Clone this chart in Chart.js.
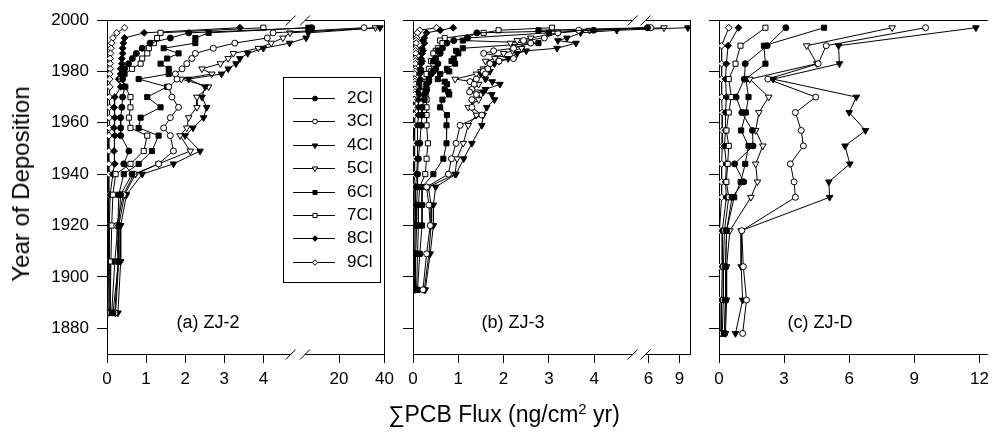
<!DOCTYPE html>
<html>
<head>
<meta charset="utf-8">
<script src="https://cdn.jsdelivr.net/npm/chart.js@4"></script>
<style>
  body { margin: 0; background: #fff; }
  #wrap { position: relative; width: 995px; height: 435px; overflow: hidden; font-family: "Liberation Sans", Arial, sans-serif; color: #000; }
  canvas { position: absolute; top: 0; }
  .lbl { position: absolute; white-space: nowrap; line-height: 1; }
  .lbl sup { font-size: 0.65em; vertical-align: 0.55em; }
</style>
</head>
<body>
<div id="wrap">
  <canvas id="chartA" width="400" height="435" style="left:0px"></canvas>
  <canvas id="chartB" width="300" height="435" style="left:400px"></canvas>
  <canvas id="chartC" width="295" height="435" style="left:700px"></canvas>
  <div class="lbl" id="ytitle" style="left:21px; top:184px; font-size:24px; transform: translate(-50%, -50%) rotate(-90deg);">Year of Deposition</div>
  <div class="lbl" style="left:504px; top:414px; font-size:23px; transform: translate(-50%, -50%);">&sum;PCB Flux (ng/cm<sup>2</sup> yr)</div>
  <div class="lbl" style="left:208px; top:322px; font-size:18px; transform: translate(-50%, -50%);">(a) ZJ-2</div>
  <div class="lbl" style="left:513px; top:322px; font-size:18px; transform: translate(-50%, -50%);">(b) ZJ-3</div>
  <div class="lbl" style="left:820px; top:322px; font-size:18px; transform: translate(-50%, -50%);">(c) ZJ-D</div>
</div>
<script>
const seriesNames = ['2Cl', '3Cl', '4Cl', '5Cl', '6Cl', '7Cl', '8Cl', '9Cl'];
const yTicks = [1880, 1900, 1920, 1940, 1960, 1980, 2000];

// (a) ZJ-2
const yearsZJ2 = [1997, 1995, 1993, 1991, 1989, 1987, 1985, 1983, 1981, 1979, 1977, 1974, 1970, 1966, 1962, 1958, 1955, 1949, 1944, 1940, 1932, 1920, 1906, 1886];
const zj2_2Cl = [8, 2.09, 1.62, 1.1, 0.9, 0.75, 0.65, 0.55, 0.45, 0.43, 0.4, 0.45, 0.4, 0.38, 0.35, 0.35, 0.35, 0.56, 0.43, 0.64, 0.35, 0.3, 0.3, 0.15];
const zj2_3Cl = [31, 4.25, 4.1, 3.27, 2.72, 2.26, 2.17, 2.04, 1.92, 1.75, 1.79, 1.58, 1.66, 1.83, 1.62, 1.45, 1.62, 1.7, 1.32, 0.69, 0.42, 0.25, 0.28, 0.2];
const zj2_4Cl = [38, 6.5, 5.5, 4.67, 4.0, 3.6, 3.4, 3.3, 3.1, 2.93, 2.09, 2.51, 2.43, 2.55, 2.47, 2.2, 2.0, 2.38, 1.7, 0.9, 0.5, 0.35, 0.35, 0.28];
const zj2_5Cl = [36, 4.68, 4.5, 4.2, 3.87, 3.23, 3.1, 2.9, 2.43, 2.68, 1.9, 2.6, 2.3, 2.3, 2.09, 2.04, 1.87, 2.13, 1.32, 0.73, 0.45, 0.3, 0.3, 0.22];
const zj2_6Cl = [6.5, 2.6, 2.26, 2.26, 1.45, 1.83, 1.54, 1.37, 1.58, 1.58, 0.81, 1.54, 1.03, 1.37, 0.86, 0.81, 1.32, 1.15, 0.81, 0.43, 0.3, 0.28, 0.2, 0.12];
const zj2_7Cl = [4.0, 1.37, 1.28, 1.2, 1.07, 1.03, 0.9, 0.86, 0.64, 0.45, 0.35, 0.47, 0.6, 0.6, 0.56, 0.6, 1.03, 0.94, 0.6, 0.22, 0.15, 0.12, 0.1, 0.08];
const zj2_8Cl = [3.4, 0.95, 0.45, 0.42, 0.4, 0.4, 0.38, 0.38, 0.35, 0.35, 0.3, 0.35, 0.2, 0.18, 0.2, 0.18, 0.2, 0.18, 0.2, 0.15, 0.08, 0.06, 0.06, 0.05];
const zj2_9Cl = [0.45, 0.25, 0.15, 0.12, 0.1, 0.09, 0.08, 0.08, 0.08, 0.07, 0.07, 0.07, 0.06, 0.06, 0.06, 0.06, 0.05, 0.05, 0.05, 0.05, 0.04, 0.03, 0.04, 0.02];
const zj2Ticks = [0, 1, 2, 3, 4, 20, 40];

// (b) ZJ-3
const yearsZJ3 = [1997, 1996, 1995, 1993, 1992, 1991, 1989, 1988, 1987, 1985, 1984, 1983, 1981, 1980, 1979, 1977, 1976, 1975, 1973, 1972, 1971, 1969, 1966, 1963, 1959, 1952, 1946, 1940, 1935, 1928, 1920, 1909, 1895];
const zj3_2Cl = [5.9, 3.99, 1.41, 1.2, 0.9, 0.75, 0.65, 0.55, 0.6, 0.5, 0.45, 0.55, 0.5, 0.45, 0.4, 0.35, 0.35, 0.3, 0.3, 0.28, 0.25, 0.25, 0.2, 0.2, 0.18, 0.15, 0.12, 0.1, 0.1, 0.08, 0.08, 0.06, 0.05];
const zj3_3Cl = [6.2, 3.66, 3.2, 2.9, 2.44, 2.6, 2.22, 1.78, 1.56, 2.22, 1.9, 1.7, 1.65, 1.55, 1.6, 1.4, 1.26, 1.35, 1.3, 1.25, 1.4, 1.3, 1.3, 1.52, 1.04, 0.95, 0.85, 0.78, 0.3, 0.35, 0.38, 0.3, 0.22];
const zj3_4Cl = [9.8, 4.5, 3.7, 3.4, 3.2, 3.6, 3.18, 2.5, 2.3, 2.1, 1.9, 1.8, 1.65, 1.7, 1.5, 1.6, 1.75, 1.92, 1.6, 1.55, 1.74, 1.8, 1.63, 1.55, 1.52, 1.3, 1.12, 0.95, 0.5, 0.45, 0.45, 0.38, 0.27];
const zj3_5Cl = [7.5, 3.9, 3.2, 2.6, 2.3, 2.15, 2.4, 2.2, 2.0, 1.81, 1.6, 1.7, 1.55, 1.5, 1.4, 0.93, 1.3, 1.45, 1.3, 1.4, 1.5, 1.45, 1.22, 1.4, 1.22, 1.11, 0.97, 0.93, 0.34, 0.4, 0.4, 0.35, 0.25];
const zj3_6Cl = [6.0, 2.77, 3.0, 1.2, 1.1, 2.77, 1.1, 0.95, 1.0, 0.9, 0.85, 0.93, 0.75, 0.8, 0.6, 0.55, 0.7, 0.75, 0.7, 0.78, 0.8, 0.65, 0.6, 0.75, 0.74, 0.74, 0.67, 0.45, 0.2, 0.2, 0.2, 0.15, 0.1];
const zj3_7Cl = [3.07, 1.89, 1.56, 0.7, 0.6, 0.65, 0.55, 0.5, 0.45, 0.5, 0.4, 0.45, 0.35, 0.4, 0.3, 0.35, 0.3, 0.25, 0.3, 0.22, 0.28, 0.3, 0.3, 0.3, 0.3, 0.33, 0.3, 0.27, 0.15, 0.12, 0.12, 0.1, 0.08];
const zj3_8Cl = [0.89, 0.6, 0.3, 0.25, 0.22, 0.25, 0.2, 0.22, 0.2, 0.18, 0.2, 0.18, 0.17, 0.18, 0.15, 0.16, 0.15, 0.14, 0.15, 0.13, 0.14, 0.12, 0.12, 0.12, 0.1, 0.1, 0.1, 0.08, 0.06, 0.05, 0.05, 0.04, 0.03];
const zj3_9Cl = [0.52, 0.15, 0.1, 0.08, 0.07, 0.07, 0.06, 0.06, 0.06, 0.05, 0.05, 0.05, 0.05, 0.05, 0.04, 0.04, 0.04, 0.04, 0.04, 0.04, 0.04, 0.03, 0.03, 0.03, 0.03, 0.03, 0.03, 0.03, 0.02, 0.02, 0.02, 0.01, 0.01];
const zj3Ticks = [0, 1, 2, 3, 4, 6, 9];

// (c) ZJ-D
const yearsZJD = [1997, 1990, 1983, 1977, 1970, 1964, 1957, 1951, 1944, 1937, 1931, 1918, 1904, 1891, 1878];
const zjd_2Cl = [3.08, 2.22, 1.21, 1.17, 0.79, 1.05, 1.54, 1.57, 0.72, 1.14, 0.6, 0.35, 0.3, 0.3, 0.25];
const zjd_3Cl = [9.52, 4.94, 4.57, 2.25, 4.46, 3.52, 3.79, 3.89, 3.29, 3.46, 3.52, 1.05, 1.12, 1.27, 1.09];
const zjd_4Cl = [11.84, 5.51, 5.55, 2.49, 6.33, 6.0, 6.75, 5.81, 6.03, 5.06, 5.1, 1.02, 1.02, 1.09, 0.76];
const zjd_5Cl = [7.98, 4.04, 4.51, 1.42, 2.29, 1.84, 1.69, 2.02, 1.69, 1.77, 1.47, 0.5, 0.35, 0.35, 0.3];
const zjd_6Cl = [4.84, 2.07, 2.14, 1.24, 1.36, 1.24, 1.02, 1.36, 1.21, 1.0, 0.7, 0.35, 0.3, 0.3, 0.25];
const zjd_7Cl = [2.14, 0.99, 0.76, 0.45, 0.57, 0.45, 0.34, 0.45, 0.4, 0.34, 0.45, 0.25, 0.2, 0.2, 0.15];
const zjd_8Cl = [0.9, 0.42, 0.34, 0.3, 0.34, 0.3, 0.3, 0.25, 0.34, 0.3, 0.34, 0.15, 0.15, 0.12, 0.1];
const zjd_9Cl = [0.45, 0.12, 0.12, 0.12, 0.12, 0.15, 0.15, 0.15, 0.12, 0.12, 0.12, 0.02, 0.02, 0.02, 0.02];
const zjdTicks = [0, 3, 6, 9, 12];

// marker look per congener group
const markers = [
  { style: 'circle', rot: 0, r: 3, fill: '#000' },
  { style: 'circle', rot: 0, r: 3, fill: '#fff' },
  { style: 'triangle', rot: 180, r: 3.8, fill: '#000' },
  { style: 'triangle', rot: 180, r: 3.8, fill: '#fff' },
  { style: 'rect', rot: 0, r: 3.6, fill: '#000' },
  { style: 'rect', rot: 0, r: 3.6, fill: '#fff' },
  { style: 'rectRot', rot: 0, r: 3.4, fill: '#000' },
  { style: 'rectRot', rot: 0, r: 3.4, fill: '#fff' },
];

// broken axis: lower segment kept as is, upper segment squeezed after a gap
function breakScale(cut, gap, start, k) {
  return v => (v <= cut ? v : cut + gap + (v - start) * k);
}
const tA = breakScale(4.7, 0.364, 5, 2.036 / 35);
const tB = breakScale(4.85, 0.283, 5.7, 0.2285);
const tC = v => v;

const font = { family: "'Liberation Sans', Arial, sans-serif", size: 17 };

const framePlugin = {
  id: 'frame',
  afterDraw(chart, args, opts) {
    const { ctx, chartArea: { left, right, top, bottom } } = chart;
    const x = chart.scales.x;
    ctx.save();
    ctx.strokeStyle = '#000';
    ctx.lineWidth = 1;
    const yb = Math.round(bottom) + 0.5;
    const yt = Math.round(top) + 0.5;
    let segs = [[left, right]];
    if (opts.gap) {
      const g0 = x.getPixelForValue(opts.gap[0]);
      const g1 = x.getPixelForValue(opts.gap[1]);
      segs = [[left, g0], [g1, right]];
      [yb, yt].forEach(yy => {
        [g0, g1].forEach(gx => {
          ctx.beginPath();
          ctx.moveTo(gx - 5, yy + 5);
          ctx.lineTo(gx + 5, yy - 5);
          ctx.stroke();
        });
      });
    }
    segs.forEach(([a, b]) => {
      ctx.beginPath();
      ctx.moveTo(a, yb); ctx.lineTo(b, yb);
      ctx.moveTo(a, yt); ctx.lineTo(b, yt);
      ctx.stroke();
    });
    if (opts.rightBorder) {
      const xr = Math.round(right) - 0.5;
      ctx.beginPath();
      ctx.moveTo(xr, yt); ctx.lineTo(xr, yb);
      ctx.stroke();
    }
    if (opts.legend) {
      const L = opts.legend;
      ctx.fillStyle = '#fff';
      ctx.fillRect(L.x, L.y, L.w, L.h);
      ctx.strokeRect(L.x + 0.5, L.y + 0.5, L.w, L.h);
      ctx.font = "17px 'Liberation Sans', Arial, sans-serif";
      ctx.textBaseline = 'middle';
      seriesNames.forEach((name, i) => {
        const yy = Math.round(L.y + 21 + i * 23.4) + 0.5;
        ctx.strokeStyle = '#000';
        ctx.beginPath();
        ctx.moveTo(L.x + 10, yy); ctx.lineTo(L.x + 52, yy);
        ctx.stroke();
        const m = markers[i];
        ctx.fillStyle = m.fill;
        Chart.helpers.drawPoint(ctx, { pointStyle: m.style, rotation: m.rot, radius: m.r * 0.8, borderWidth: 1 }, L.x + 32, yy);
        ctx.fillStyle = '#000';
        ctx.fillText(name, L.x + 64, yy);
      });
    }
    ctx.restore();
  }
};

function makePanel(id, years, series, tf, cfg) {
  const datasets = series.map((vals, i) => ({
    label: seriesNames[i],
    data: years.map((y, j) => ({ x: tf(vals[j]), y })),
    showLine: true,
    borderColor: '#000',
    borderWidth: 1,
    pointStyle: markers[i].style,
    pointRotation: markers[i].rot,
    pointRadius: markers[i].r,
    pointBackgroundColor: markers[i].fill,
    pointBorderColor: '#000',
    pointBorderWidth: 1,
  }));
  const tickPos = cfg.ticks.map(tf);
  return new Chart(document.getElementById(id), {
    type: 'scatter',
    data: { datasets },
    options: {
      responsive: false,
      animation: false,
      events: [],
      layout: { padding: { top: 20, right: cfg.padRight, left: 0, bottom: 0 } },
      plugins: {
        legend: { display: false },
        tooltip: { enabled: false },
        frame: cfg.frame,
      },
      scales: {
        x: {
          type: 'linear',
          min: 0,
          max: cfg.xMax,
          afterBuildTicks: ax => { ax.ticks = tickPos.map(v => ({ value: v })); },
          afterFit: ax => { ax.height = 81; },
          ticks: { callback: (v, i) => String(cfg.ticks[i]), color: '#000', font, padding: 6, maxRotation: 0, autoSkip: false },
          grid: { drawOnChartArea: false, tickLength: 9, color: '#000' },
          border: { display: false },
        },
        y: {
          type: 'linear',
          min: 1870,
          max: 2000,
          afterBuildTicks: ax => { ax.ticks = yTicks.map(v => ({ value: v })); },
          afterFit: ax => { ax.width = cfg.yWidth; },
          ticks: { display: cfg.yLabels, callback: v => String(v), color: '#000', font, padding: 8 },
          grid: { drawOnChartArea: false, tickLength: 10, color: '#000' },
          border: { display: true, color: '#000', width: 1 },
        },
      },
    },
    plugins: [framePlugin],
  });
}

makePanel('chartA', yearsZJ2,
  [zj2_2Cl, zj2_3Cl, zj2_4Cl, zj2_5Cl, zj2_6Cl, zj2_7Cl, zj2_8Cl, zj2_9Cl], tA,
  { ticks: zj2Ticks, xMax: 7.1, padRight: 13, yWidth: 107, yLabels: true,
    frame: { gap: [4.7, 4.7 + 0.364], rightBorder: true, legend: { x: 283, y: 77, w: 97, h: 205 } } });

makePanel('chartB', yearsZJ3,
  [zj3_2Cl, zj3_3Cl, zj3_4Cl, zj3_5Cl, zj3_6Cl, zj3_7Cl, zj3_8Cl, zj3_9Cl], tB,
  { ticks: zj3Ticks, xMax: 6.139, padRight: 9, yWidth: 13, yLabels: false,
    frame: { gap: [4.85, 4.85 + 0.283], rightBorder: true } });

makePanel('chartC', yearsZJD,
  [zjd_2Cl, zjd_3Cl, zjd_4Cl, zjd_5Cl, zjd_6Cl, zjd_7Cl, zjd_8Cl, zjd_9Cl], tC,
  { ticks: zjdTicks, xMax: 12.39, padRight: 0, yWidth: 19, yLabels: false,
    frame: { rightBorder: false } });
</script>
</body>
</html>
